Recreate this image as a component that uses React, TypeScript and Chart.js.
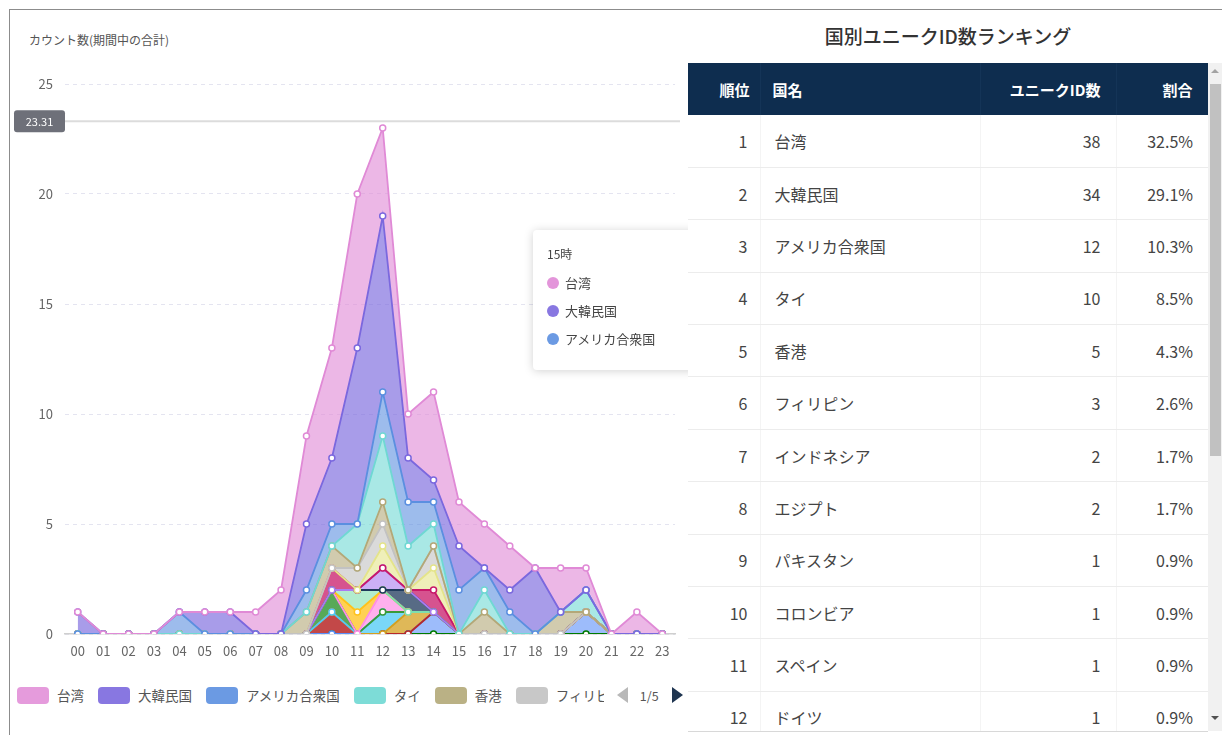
import React, { useEffect, useRef } from "react";
import { Chart, registerables } from "chart.js";

Chart.register(...registerables);

const FONT = "'Noto Sans CJK JP', 'Noto Sans', sans-serif";

// ---- chart data ----
const hours = ["00","01","02","03","04","05","06","07","08","09","10","11","12","13","14","15","16","17","18","19","20","21","22","23"];

const countries = ["台湾","大韓民国","アメリカ合衆国","タイ","香港","フィリピン","インドネシア","エジプト","パキスタン","コロンビア","スペイン","ドイツ","ベトナム","マレーシア","シンガポール","フランス","インド","イギリス","カナダ"];

const lineColors = ["#e08ad6","#7b68de","#5b8fe0","#6fd8d3","#b3a878","#c2c2c2","#e4e48a","#c8196a","#a97cf0","#1f3a5c","#7edfae","#ffc21a","#ff8ee6","#3a9a3a","#4ec9f5","#d4a020","#b82828","#5b8ff9","#007a00"];

const fillAlpha = [0.62,0.66,0.6,0.6,0.6,0.6,0.6,0.75,0.6,0.75,0.6,0.75,0.7,0.85,0.75,0.75,0.85,0.6,0.8];

const 台湾 =          [0,0,0,0,0,0,0,1,2,4,5,7,4,2,4,2,2,2,0,2,1,0,1,0];
const 大韓民国 =      [1,0,0,0,0,1,1,0,0,3,3,8,8,2,1,2,0,1,3,0,0,0,0,0];
const アメリカ合衆国 = [0,0,0,0,1,0,0,0,0,1,1,0,2,2,1,2,1,1,0,0,0,0,0,0];
const タイ =          [0,0,0,0,0,0,0,0,0,0,0,2,3,2,1,0,1,0,0,0,1,0,0,0];
const 香港 =          [0,0,0,0,0,0,0,0,0,1,1,0,1,0,0,0,1,0,0,1,0,0,0,0];
const フィリピン =     [0,0,0,0,0,0,0,0,0,0,0,1,1,0,1,0,0,0,0,0,0,0,0,0];
const インドネシア =   [0,0,0,0,0,0,0,0,0,0,0,0,1,0,1,0,0,0,0,0,0,0,0,0];
const エジプト =       [0,0,0,0,0,0,0,0,0,0,1,0,0,0,1,0,0,0,0,0,0,0,0,0];
const パキスタン =     [0,0,0,0,0,0,0,0,0,0,0,0,1,0,0,0,0,0,0,0,0,0,0,0];
const コロンビア =     [0,0,0,0,0,0,0,0,0,0,0,0,0,1,0,0,0,0,0,0,0,0,0,0];
const スペイン =       [0,0,0,0,0,0,0,0,0,0,0,1,0,0,0,0,0,0,0,0,0,0,0,0];
const ドイツ =         [0,0,0,0,0,0,0,0,0,0,0,1,0,0,0,0,0,0,0,0,0,0,0,0];
const ベトナム =       [0,0,0,0,0,0,0,0,0,0,0,0,1,0,0,0,0,0,0,0,0,0,0,0];
const マレーシア =     [0,0,0,0,0,0,0,0,0,0,1,0,0,0,0,0,0,0,0,0,0,0,0,0];
const シンガポール =   [0,0,0,0,0,0,0,0,0,0,0,0,1,0,0,0,0,0,0,0,0,0,0,0];
const フランス =       [0,0,0,0,0,0,0,0,0,0,0,0,0,1,0,0,0,0,0,0,0,0,0,0];
const インド =         [0,0,0,0,0,0,0,0,0,0,1,0,0,0,0,0,0,0,0,0,0,0,0,0];
const イギリス =       [0,0,0,0,0,0,0,0,0,0,0,0,0,0,1,0,0,0,0,0,1,0,0,0];
const カナダ =         [0,0,0,0,0,0,0,0,0,0,0,0,0,0,0,0,0,0,0,0,0,0,0,0];

const seriesValues = [台湾,大韓民国,アメリカ合衆国,タイ,香港,フィリピン,インドネシア,エジプト,パキスタン,コロンビア,スペイン,ドイツ,ベトナム,マレーシア,シンガポール,フランス,インド,イギリス,カナダ];

const yMax = 25;
const yStep = 5;
const crosshairValue = 23.31;

const tooltipTitle = "15時";
const tooltipSeries = [0, 1, 2];

const legendPageText = "1/5";
const legendVisible = 6;

// ---- table data ----
const rankNo = [1,2,3,4,5,6,7,8,9,10,11,12];
const rankNames = ["台湾","大韓民国","アメリカ合衆国","タイ","香港","フィリピン","インドネシア","エジプト","パキスタン","コロンビア","スペイン","ドイツ"];
const rankCounts = [38,34,12,10,5,3,2,2,1,1,1,1];
const rankShares = ["32.5%","29.1%","10.3%","8.5%","4.3%","2.6%","1.7%","1.7%","0.9%","0.9%","0.9%","0.9%"];
const tableHeaders = ["順位","国名","ユニークID数","割合"];

function hexToRgba(hex: string, a: number) {
  const n = parseInt(hex.slice(1), 16);
  return `rgba(${(n >> 16) & 255},${(n >> 8) & 255},${n & 255},${a})`;
}

function buildCumulative() {
  const n = seriesValues.length;
  const cum: number[][] = new Array(n);
  for (let i = n - 1; i >= 0; i--) {
    cum[i] = seriesValues[i].map((v, h) => v + (i < n - 1 ? cum[i + 1][h] : 0));
  }
  return cum;
}

const crosshairPlugin = {
  id: "crosshair",
  afterDraw(chart: any) {
    const { ctx, chartArea, scales } = chart;
    const y = scales.y.getPixelForValue(crosshairValue);
    ctx.save();
    ctx.strokeStyle = "#dcdcdc";
    ctx.lineWidth = 2;
    ctx.beginPath();
    ctx.moveTo(chartArea.left, y);
    ctx.lineTo(chartArea.right + 5, y);
    ctx.stroke();
    const bx = 4, bw = 51, bh = 22;
    ctx.fillStyle = "#6e7079";
    ctx.beginPath();
    (ctx as any).roundRect(bx, y - bh / 2, bw, bh, 3);
    ctx.fill();
    ctx.fillStyle = "#fff";
    ctx.font = `11px ${FONT}`;
    ctx.textAlign = "center";
    ctx.textBaseline = "middle";
    ctx.fillText(crosshairValue.toFixed(2), bx + bw / 2, y + 0.5);
    ctx.restore();
  },
};

function AreaChart() {
  const ref = useRef<HTMLCanvasElement>(null);
  useEffect(() => {
    if (!ref.current) return;
    const cum = buildCumulative();
    const last = seriesValues.length - 1;
    const chart = new Chart(ref.current, {
      type: "line",
      data: {
        labels: hours,
        datasets: countries.map((name, i) => ({
          label: name,
          data: cum[i],
          borderColor: lineColors[i],
          backgroundColor: hexToRgba(lineColors[i], fillAlpha[i]),
          borderWidth: 1.8,
          tension: 0,
          fill: i === last ? "origin" : "+1",
          pointRadius: 3,
          pointBorderWidth: 1.5,
          pointBackgroundColor: "#ffffff",
          pointBorderColor: lineColors[i],
        })),
      },
      options: {
        animation: false,
        responsive: false,
        devicePixelRatio: 1,
        layout: { padding: { top: 74, right: 13, left: 0, bottom: 0 } },
        plugins: {
          legend: { display: false },
          tooltip: { enabled: false },
          filler: { drawTime: "beforeDatasetsDraw" },
        } as any,
        scales: {
          x: {
            offset: true,
            grid: { display: false, drawTicks: false },
            border: { display: true, color: "#cfcfcf", width: 1.5 },
            ticks: { color: "#666", font: { size: 13, family: FONT }, padding: 9, maxRotation: 0, autoSkip: false },
            afterFit(scale: any) { scale.height = 30; },
          },
          y: {
            min: 0,
            max: yMax,
            ticks: { stepSize: yStep, color: "#666", font: { size: 13, family: FONT }, padding: 12 },
            grid: { color: "#e4e4f0", drawTicks: false, lineWidth: 1 },
            border: { display: false, dash: [4, 4] },
            afterFit(scale: any) { scale.width = 55; },
          },
        },
      },
      plugins: [crosshairPlugin],
    });
    return () => chart.destroy();
  }, []);
  return (
    <canvas
      ref={ref}
      width={678}
      height={654}
      style={{ position: "absolute", left: 10, top: 10, width: 678, height: 654, display: "block" }}
    />
  );
}

function Legend() {
  return (
    <div style={{ position: "absolute", left: 17, top: 686, height: 18, display: "flex", alignItems: "center", fontFamily: FONT, fontSize: 13.5, color: "#555", whiteSpace: "nowrap" }}>
      {countries.slice(0, legendVisible).map((name, i) => (
        <div key={name} style={{ display: "flex", alignItems: "center", marginRight: 14 }}>
          <div style={{ width: 32, height: 17, borderRadius: 4, background: lineColors[i], opacity: i === 0 ? 0.85 : 0.9, marginRight: 8 }} />
          <span style={i === legendVisible - 1 ? { display: "inline-block", width: 48, overflow: "hidden" } : undefined}>{name}</span>
        </div>
      ))}
      <div style={{ width: 0, height: 0, borderTop: "8px solid transparent", borderBottom: "8px solid transparent", borderRight: "11px solid #b8b8b8", marginLeft: -1 }} />
      <span style={{ margin: "0 12px 0 12px", fontSize: 12.5, color: "#555" }}>{legendPageText}</span>
      <div style={{ width: 0, height: 0, borderTop: "8px solid transparent", borderBottom: "8px solid transparent", borderLeft: "11px solid #1f3550", marginLeft: 1 }} />
    </div>
  );
}

function TooltipBox() {
  return (
    <div style={{ position: "absolute", left: 533, top: 230, width: 175, height: 140, background: "#fff", borderRadius: 4, boxShadow: "0 1px 10px rgba(0,0,0,0.18)", fontFamily: FONT, color: "#444" }}>
      <div style={{ position: "absolute", left: 14, top: 15, fontSize: 12 }}>{tooltipTitle}</div>
      {tooltipSeries.map((si, k) => (
        <div key={si} style={{ position: "absolute", left: 14, top: 43 + k * 28, display: "flex", alignItems: "center", fontSize: 13 }}>
          <span style={{ width: 12, height: 12, borderRadius: 6, background: lineColors[si], opacity: 0.9, marginRight: 6, display: "inline-block" }} />
          <span>{countries[si]}</span>
        </div>
      ))}
    </div>
  );
}

function RankingTable() {
  const cols = [72, 220, 136, 92];
  const cell: React.CSSProperties = { height: 52.4, boxSizing: "border-box", padding: "0 15px", borderBottom: "1px solid #ececec", borderRight: "1px solid #f4f4f4", whiteSpace: "nowrap" };
  return (
    <div style={{ position: "absolute", left: 688, top: 10, width: 534, height: 725, background: "#fff", fontFamily: FONT }}>
      <div style={{ position: "absolute", left: 0, width: 520, top: 12, textAlign: "center", fontSize: 19, fontWeight: 500, color: "#333" }}>国別ユニークID数ランキング</div>
      <div style={{ position: "absolute", left: 0, top: 53, width: 520, height: 668, overflow: "hidden", borderBottom: "1px solid #d8d8d8" }}>
        <table style={{ borderCollapse: "collapse", tableLayout: "fixed", width: 520, fontSize: 16, color: "#444" }}>
          <colgroup>
            {cols.map((w, i) => <col key={i} style={{ width: w }} />)}
          </colgroup>
          <thead>
            <tr style={{ background: "#0e2d4f", color: "#fff" }}>
              {tableHeaders.map((h, i) => (
                <th key={h} style={{ ...cell, height: 52, fontSize: 15, fontWeight: 700, textAlign: i === 1 ? "left" : "right", padding: i === 0 ? "0 10px 0 0" : i === 1 ? "0 0 0 12px" : "0 15px", borderBottom: "none", borderRight: "1px solid #143457" }}>{h}</th>
              ))}
            </tr>
          </thead>
          <tbody>
            {rankNo.map((r, i) => (
              <tr key={r}>
                <td style={{ ...cell, textAlign: "right", padding: "0 12px 0 0" }}>{r}</td>
                <td style={{ ...cell, textAlign: "left", padding: "0 0 0 14px" }}>{rankNames[i]}</td>
                <td style={{ ...cell, textAlign: "right" }}>{rankCounts[i]}</td>
                <td style={{ ...cell, textAlign: "right", borderRight: "none" }}>{rankShares[i]}</td>
              </tr>
            ))}
          </tbody>
        </table>
      </div>
      <div style={{ position: "absolute", left: 520, top: 53, width: 14, height: 668, background: "#f1f1f1" }}>
        <div style={{ position: "absolute", left: 3, top: 6, width: 0, height: 0, borderLeft: "4px solid transparent", borderRight: "4px solid transparent", borderBottom: "4px solid #a3a3a3" }} />
        <div style={{ position: "absolute", left: 2, top: 21, width: 11, height: 372, background: "#c1c1c1" }} />
        <div style={{ position: "absolute", left: 3, top: 653, width: 0, height: 0, borderLeft: "4px solid transparent", borderRight: "4px solid transparent", borderTop: "4px solid #505050" }} />
      </div>
    </div>
  );
}

export default function App() {
  return (
    <div style={{ position: "fixed", left: 0, top: 0, width: 1222, height: 735, overflow: "hidden", background: "#fff" }}>
      <div style={{ position: "absolute", left: 9, top: 9, width: 1300, height: 800, border: "1.5px solid #8c8c8c", boxSizing: "border-box" }} />
      <div style={{ position: "absolute", left: 29, top: 31, fontFamily: FONT, fontSize: 12, color: "#555", whiteSpace: "nowrap" }}>カウント数(期間中の合計)</div>
      <AreaChart />
      <Legend />
      <TooltipBox />
      <RankingTable />
    </div>
  );
}
